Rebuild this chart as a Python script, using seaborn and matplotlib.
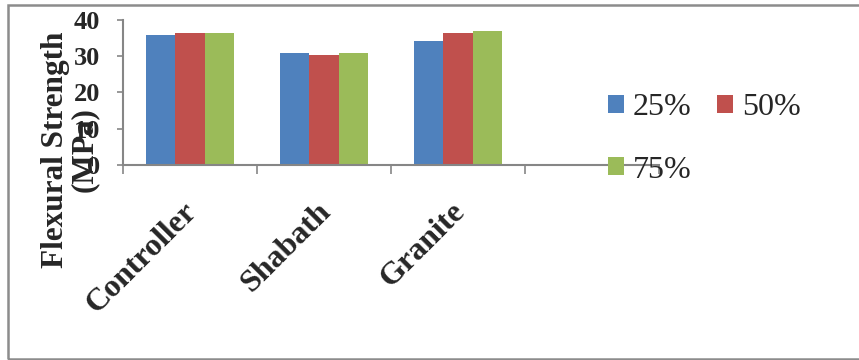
import pandas as pd
import matplotlib
matplotlib.use("Agg")
import matplotlib.pyplot as plt
import matplotlib.transforms as mtransforms
from matplotlib.patches import Rectangle
import seaborn as sns

# Data
materials = ["Controller", "Shabath", "Granite"]
mixes = ["25%", "50%", "75%"]
strength_25 = [35.9, 30.8, 34.2]
strength_50 = [36.3, 30.3, 36.3]
strength_75 = [36.3, 30.8, 37.0]
y_ticks = [0, 10, 20, 30, 40]

colors = ["#4F81BD", "#C0504D", "#9BBB59"]

sns.set_style("white")
plt.rcParams["font.family"] = ["Liberation Serif", "DejaVu Serif"]

df = pd.DataFrame({
    "material": materials * 3,
    "mix": [m for m in mixes for _ in materials],
    "strength": strength_25 + strength_50 + strength_75,
})

fig = plt.figure(figsize=(8.59, 3.6), dpi=100)
ax = fig.add_axes([123 / 859, 1 - 165 / 360, 536 / 859, 145 / 360])

sns.barplot(data=df, x="material", y="strength", hue="mix", order=materials,
            hue_order=mixes, palette=colors, width=0.66, saturation=1,
            errorbar=None, linewidth=0, ax=ax)

ax.set_xlim(-0.5, 3.5)
ax.set_ylim(0, 40)
ax.set_yticks(y_ticks)
ax.set_yticklabels([str(t) for t in y_ticks], fontsize=19, fontweight="bold")
ax.tick_params(axis="y", length=4.3, width=1.2, color="#868686", pad=12, left=True)

# category boundaries get the tick marks, centres get the labels
ax.set_xticks([-0.5, 0.5, 1.5, 2.5, 3.5])
ax.set_xticklabels([])
ax.set_xticks([0, 1, 2], minor=True)
ax.set_xticklabels(materials, minor=True, fontsize=23, fontweight="bold",
                   rotation=45, ha="right", va="top", rotation_mode="anchor")
ax.tick_params(axis="x", which="major", length=6.5, width=1.2, color="#868686",
               bottom=True)
ax.tick_params(axis="x", which="minor", length=0, pad=23)
shift = mtransforms.ScaledTranslation(-8 / 100, 0, fig.dpi_scale_trans)
for lbl in ax.get_xticklabels(minor=True):
    lbl.set_transform(lbl.get_transform() + shift)

ax.set_xlabel("")
ax.set_ylabel("")
for side in ["top", "right"]:
    ax.spines[side].set_visible(False)
for side in ["left", "bottom"]:
    ax.spines[side].set_color("#868686")
    ax.spines[side].set_linewidth(1.5)
ax.grid(False)

fig.text(70 / 859, 1 - 150 / 360, "Flexural Strength\n(MPa)", rotation=90,
         ha="center", va="center", multialignment="center", fontsize=22.5,
         fontweight="bold", linespacing=1.0)

# reorder so the legend reads 25% 50% / 75% row by row
handles, labels = ax.get_legend_handles_labels()
order = [0, 2, 1]
ax.legend([handles[i] for i in order], [labels[i] for i in order], ncol=2,
          frameon=False, fontsize=23,
          loc="upper left", bbox_to_anchor=(608 / 859, 1 - 93 / 360),
          bbox_transform=fig.transFigure, borderpad=0, borderaxespad=0,
          handlelength=0.5, handleheight=0.5, handletextpad=0.28,
          columnspacing=0.8, labelspacing=1.05)

# chart area border (right edge runs off the picture)
fig.patches.append(Rectangle((8 / 859, 1 / 360), 1.0, 354 / 360,
                             transform=fig.transFigure, fill=False,
                             edgecolor="#8C8C8C", linewidth=1.8))

fig.savefig("out.png", dpi=100)
